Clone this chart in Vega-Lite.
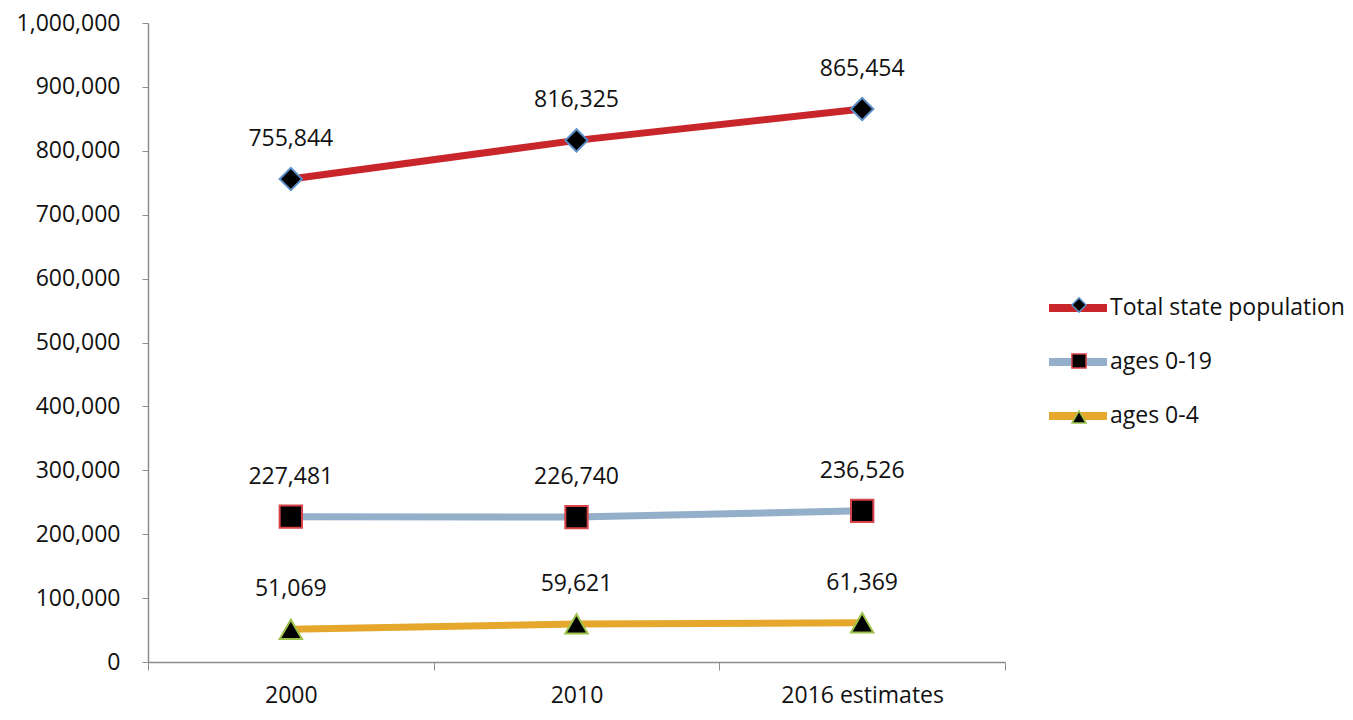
{
  "$schema": "https://vega.github.io/schema/vega-lite/v6.json",
  "autosize": "none",
  "width": 857,
  "height": 639,
  "padding": {"left": 148, "top": 23, "right": 348, "bottom": 58},
  "background": "white",
  "config": {
    "view": {"stroke": null},
    "font": "Open Sans",
    "axis": {"labelFont": "Open Sans", "labelFontSize": 23, "labelColor": "#111", "domainColor": "#8c8c8c", "tickColor": "#8c8c8c", "grid": false, "title": null}
  },
  "data": {
    "values": [
      {"year": "2000", "series": "Total state population", "marker": "d", "value": 755844},
      {"year": "2010", "series": "Total state population", "marker": "d", "value": 816325},
      {"year": "2016 estimates", "series": "Total state population", "marker": "d", "value": 865454},
      {"year": "2000", "series": "ages 0-19", "marker": "s", "value": 227481},
      {"year": "2010", "series": "ages 0-19", "marker": "s", "value": 226740},
      {"year": "2016 estimates", "series": "ages 0-19", "marker": "s", "value": 236526},
      {"year": "2000", "series": "ages 0-4", "marker": "t", "value": 51069},
      {"year": "2010", "series": "ages 0-4", "marker": "t", "value": 59621},
      {"year": "2016 estimates", "series": "ages 0-4", "marker": "t", "value": 61369}
    ]
  },
  "encoding": {
    "x": {
      "field": "year", "type": "nominal", "sort": null,
      "scale": {"type": "band", "paddingInner": 0, "paddingOuter": 0},
      "axis": {"labelAngle": 0, "tickBand": "extent", "tickSize": 8, "labelPadding": 14, "domainWidth": 1.5}
    },
    "y": {
      "field": "value", "type": "quantitative",
      "scale": {"domain": [0, 1000000], "nice": false, "zero": true},
      "axis": {"values": [0, 100000, 200000, 300000, 400000, 500000, 600000, 700000, 800000, 900000, 1000000], "format": ",d", "tickSize": 6, "labelPadding": 22, "domainWidth": 1.5}
    }
  },
  "layer": [
    {
      "mark": {"type": "line", "strokeWidth": 7, "strokeCap": "butt"},
      "encoding": {
        "color": {
          "field": "series", "type": "nominal",
          "scale": {"domain": ["Total state population", "ages 0-19", "ages 0-4"], "range": ["#c8262b", "#94afc9", "#e5a82c"]},
          "legend": {
            "orient": "none", "legendX": 897, "legendY": 252, "title": null,
            "symbolType": "stroke", "symbolSize": 3364, "symbolStrokeWidth": 8,
            "labelFontSize": 23, "labelFont": "Open Sans", "labelColor": "#111", "labelOffset": -1,
            "rowPadding": 5, "labelLimit": 400
          }
        }
      }
    },
    {
      "mark": {"type": "point", "filled": true, "fill": "black", "strokeWidth": 2, "opacity": 1, "size": 500},
      "encoding": {
        "shape": {
          "field": "marker", "type": "nominal",
          "scale": {"domain": ["d", "s", "t"], "range": ["diamond", "square", "triangle-up"]},
          "legend": {
            "orient": "none", "legendX": 920, "legendY": 271, "title": null,
            "symbolSize": 200, "symbolFillColor": "black", "symbolStrokeWidth": 1.5,
            "labelFontSize": 22, "labelOpacity": 0, "rowPadding": 34, "symbolOpacity": 1
          }
        },
        "stroke": {
          "field": "marker", "type": "nominal",
          "scale": {"domain": ["d", "s", "t"], "range": ["#5b8fc9", "#d9434a", "#9cc24b"]},
          "legend": null
        }
      }
    },
    {
      "mark": {"type": "text", "dy": -40, "fontSize": 23, "font": "Open Sans", "color": "#111"},
      "encoding": {
        "text": {"field": "value", "type": "quantitative", "format": ","}
      }
    }
  ]
}
